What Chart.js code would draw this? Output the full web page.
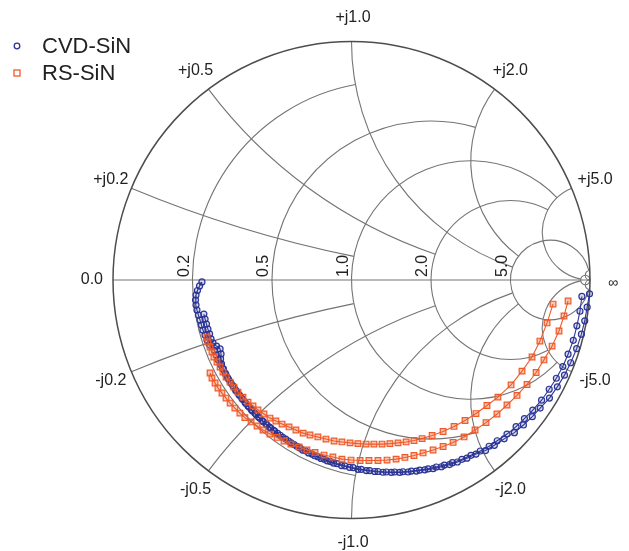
<!DOCTYPE html>
<html>
<head>
<meta charset="utf-8">
<script src="https://cdn.jsdelivr.net/npm/chart.js@4.4.1/dist/chart.umd.min.js"></script>
<style>
  html, body { margin: 0; padding: 0; background: #fff; }
  #wrap { width: 629px; height: 551px; position: relative; }
</style>
</head>
<body>
<div id="wrap"><canvas id="smith"></canvas></div>
<script>
// CVD-SiN, two sweeps
var cvdRe1 = [-0.627,-0.637,-0.646,-0.652,-0.654,-0.652,-0.648,-0.642,-0.635,-0.629,-0.623,-0.614,-0.606,-0.595,
  -0.575,-0.567,-0.559,-0.550,-0.540,-0.530,-0.520,-0.509,-0.497,-0.486,-0.473,-0.460,-0.447,-0.434,-0.420,-0.405,-0.390,-0.375,-0.359,-0.344,-0.327,-0.310,
  -0.288,-0.264,-0.241,-0.216,-0.192,-0.166,-0.141,-0.115,-0.088,-0.061,
  -0.028,0.007,0.041,0.076,0.111,0.146,0.181,0.216,0.251,0.286,0.321,0.355,0.389,0.423,
  0.463,0.501,0.540,0.577,0.611,0.652,0.690,0.725,0.760,0.797,0.829,0.859,0.886,0.908,0.930,0.945,0.958,0.966];
var cvdIm1 = [-0.008,-0.025,-0.044,-0.063,-0.084,-0.105,-0.126,-0.147,-0.168,-0.189,-0.210,-0.231,-0.252,-0.273,
  -0.295,-0.315,-0.334,-0.353,-0.372,-0.390,-0.409,-0.427,-0.444,-0.462,-0.479,-0.496,-0.512,-0.528,-0.544,-0.559,-0.574,-0.589,-0.603,-0.617,-0.630,-0.643,
  -0.660,-0.675,-0.690,-0.704,-0.717,-0.730,-0.741,-0.752,-0.761,-0.770,
  -0.779,-0.787,-0.794,-0.799,-0.803,-0.805,-0.805,-0.804,-0.801,-0.797,-0.792,-0.784,-0.776,-0.766,
  -0.752,-0.735,-0.717,-0.697,-0.674,-0.646,-0.615,-0.581,-0.546,-0.504,-0.458,-0.412,-0.363,-0.311,-0.253,-0.192,-0.131,-0.069];
var cvdRe2 = [-0.619,-0.614,-0.608,-0.602,-0.595,-0.589,-0.581,-0.566,-0.551,-0.547,-0.549,-0.545,-0.537,
  -0.527,-0.516,-0.505,-0.493,-0.481,-0.469,-0.456,-0.443,-0.429,-0.415,-0.400,-0.385,-0.370,-0.354,-0.338,-0.322,-0.299,-0.276,-0.253,-0.229,
  -0.205,-0.180,-0.154,-0.128,-0.102,-0.075,-0.042,-0.008,0.027,0.062,0.097,0.132,0.167,0.202,0.237,0.272,0.307,
  0.342,0.377,0.411,0.444,0.484,0.522,0.562,0.599,0.640,0.683,0.721,0.758,0.791,
  0.830,0.863,0.893,0.919,0.944,0.964,0.978,0.988,0.998];
var cvdIm2 = [-0.143,-0.164,-0.185,-0.206,-0.226,-0.247,-0.264,-0.277,-0.289,-0.310,-0.331,-0.352,-0.373,
  -0.396,-0.415,-0.433,-0.450,-0.468,-0.484,-0.501,-0.518,-0.533,-0.549,-0.564,-0.579,-0.594,-0.608,-0.621,-0.634,-0.651,-0.667,-0.683,-0.697,
  -0.713,-0.725,-0.737,-0.748,-0.758,-0.768,-0.778,-0.786,-0.794,-0.799,-0.803,-0.806,-0.807,-0.807,-0.805,-0.801,-0.796,
  -0.791,-0.783,-0.774,-0.763,-0.747,-0.730,-0.715,-0.693,-0.666,-0.640,-0.608,-0.573,-0.537,
  -0.495,-0.448,-0.399,-0.347,-0.288,-0.227,-0.171,-0.114,-0.058];
// RS-SiN, two sweeps
var rsRe1 = [-0.606,-0.602,-0.593,-0.585,-0.577,-0.564,-0.551,-0.539,-0.526,-0.509,
  -0.493,-0.476,-0.455,-0.434,-0.413,-0.392,-0.367,-0.342,-0.317,-0.291,
  -0.262,-0.233,-0.203,-0.174,-0.141,-0.107,-0.073,-0.040,-0.006,0.027,
  0.061,0.094,0.128,0.161,0.195,0.229,0.262,0.296,0.338,0.384,
  0.430,0.476,0.522,0.568,0.614,0.669,0.715,0.757,0.790,0.820,0.845];
var rsIm1 = [-0.239,-0.260,-0.281,-0.302,-0.323,-0.344,-0.365,-0.386,-0.407,-0.428,
  -0.449,-0.470,-0.491,-0.512,-0.528,-0.545,-0.562,-0.579,-0.591,-0.604,
  -0.616,-0.629,-0.642,-0.650,-0.658,-0.667,-0.675,-0.679,-0.683,-0.686,
  -0.688,-0.688,-0.688,-0.686,-0.683,-0.679,-0.673,-0.665,-0.652,-0.635,
  -0.614,-0.589,-0.560,-0.526,-0.491,-0.440,-0.382,-0.323,-0.256,-0.180,-0.101];
var rsRe2 = [-0.593,-0.585,-0.572,-0.560,-0.543,-0.526,-0.509,-0.489,-0.468,-0.447,
  -0.421,-0.396,-0.371,-0.342,-0.312,-0.283,-0.254,-0.220,-0.187,-0.153,
  -0.115,-0.078,-0.040,-0.002,0.036,0.073,0.111,0.149,0.187,0.224,
  0.262,0.300,0.342,0.384,0.426,0.472,0.518,0.564,0.610,0.652,
  0.694,0.736,0.774,0.807,0.841,0.870,0.891,0.908];
var rsIm2 = [-0.390,-0.411,-0.432,-0.453,-0.474,-0.495,-0.516,-0.537,-0.558,-0.577,
  -0.595,-0.612,-0.629,-0.646,-0.660,-0.675,-0.688,-0.700,-0.713,-0.723,
  -0.734,-0.742,-0.751,-0.755,-0.757,-0.757,-0.757,-0.755,-0.751,-0.744,
  -0.736,-0.725,-0.713,-0.698,-0.681,-0.658,-0.629,-0.598,-0.562,-0.524,
  -0.484,-0.438,-0.388,-0.335,-0.277,-0.214,-0.151,-0.088];

// Smith grid: normalized resistance circles / reactance arcs and where they stop
var rTicks = [0.2, 0.5, 1, 2, 5, 50];
var rStopAtX = [1, 2, 5, 5, 50, Infinity];
var xTicks = [0.2, 0.5, 1, 2, 5, 50];
var xStopAtR = [1, 2, 5, 5, 50, Infinity];
var rLabels = ["0.2", "0.5", "1.0", "2.0", "5.0"];
var xLabels = ["0.2", "0.5", "1.0", "2.0", "5.0"];

var blue = '#2c3596';
var orange = '#f05a28';

function toPoints(re, im) {
  return re.map(function (v, i) { return { x: v, y: im[i] }; });
}

// z = r + jx  ->  gamma
function gamma(r, x) {
  if (r === Infinity) return [1, 0];
  var d = (r + 1) * (r + 1) + x * x;
  return [(r * r + x * x - 1) / d, 2 * x / d];
}

var smithGrid = {
  id: 'smithGrid',
  beforeDatasetsDraw: function (chart) {
    var ctx = chart.ctx, sx = chart.scales.x, sy = chart.scales.y;
    var px = function (v) { return sx.getPixelForValue(v); };
    var py = function (v) { return sy.getPixelForValue(v); };
    var unit = px(1) - px(0);
    ctx.save();
    ctx.strokeStyle = '#747474';
    ctx.lineWidth = 1.1;

    rTicks.forEach(function (r, i) {
      var c = r / (1 + r), rad = 1 / (1 + r);
      ctx.beginPath();
      if (rStopAtX[i] === Infinity) {
        ctx.arc(px(c), py(0), rad * unit, 0, 2 * Math.PI);
      } else {
        var g = gamma(r, rStopAtX[i]);
        var t = Math.atan2(g[1], g[0] - c);
        ctx.arc(px(c), py(0), rad * unit, -t, t, true);
      }
      ctx.stroke();
    });

    xTicks.forEach(function (x, i) {
      [x, -x].forEach(function (xv) {
        var cy = 1 / xv, rad = Math.abs(1 / xv);
        var a = gamma(0, xv), b = gamma(xStopAtR[i], xv);
        var ta = Math.atan2(a[1] - cy, a[0] - 1);
        var tb = Math.atan2(b[1] - cy, b[0] - 1);
        ctx.beginPath();
        ctx.arc(px(1), py(cy), rad * unit, -ta, -tb, xv > 0);
        ctx.stroke();
      });
    });

    // real axis
    ctx.beginPath();
    ctx.moveTo(px(-1), py(0));
    ctx.lineTo(px(1), py(0));
    ctx.stroke();

    // outer circle
    ctx.strokeStyle = '#4d4d4d';
    ctx.lineWidth = 1.5;
    ctx.beginPath();
    ctx.arc(px(0), py(0), unit, 0, 2 * Math.PI);
    ctx.stroke();
    ctx.restore();
  },
  afterDraw: function (chart) {
    var ctx = chart.ctx, sx = chart.scales.x, sy = chart.scales.y;
    var px = function (v) { return sx.getPixelForValue(v); };
    var py = function (v) { return sy.getPixelForValue(v); };
    ctx.save();
    ctx.fillStyle = '#222';
    ctx.font = '16px "Liberation Sans", Arial, sans-serif';

    // reactance labels round the rim
    ctx.textAlign = 'center';
    ctx.textBaseline = 'middle';
    xTicks.slice(0, 5).forEach(function (x, i) {
      [1, -1].forEach(function (s) {
        var g = gamma(0, s * x);
        ctx.fillText((s > 0 ? '+j' : '-j') + xLabels[i], px(1.1 * g[0]) + 1.5, py(1.1 * g[1]));
      });
    });

    // resistance labels along the real axis
    rTicks.slice(0, 5).forEach(function (r, i) {
      var g = (r - 1) / (r + 1);
      ctx.save();
      ctx.translate(px(g) - 8, py(0) - 3);
      ctx.rotate(-Math.PI / 2);
      ctx.textAlign = 'left';
      ctx.textBaseline = 'middle';
      ctx.fillText(rLabels[i], 0, 0);
      ctx.restore();
    });
    ctx.textAlign = 'right';
    ctx.fillText('0.0', px(-1) - 10, py(0));
    ctx.textAlign = 'center';
    ctx.font = '14px "Liberation Sans", Arial, sans-serif';
    ctx.fillText('\u221e', px(1) + 23, py(0) + 3);

    // legend
    ctx.font = '22px "Liberation Sans", Arial, sans-serif';
    ctx.textAlign = 'left';
    ctx.lineWidth = 1.3;
    ctx.strokeStyle = blue;
    ctx.beginPath();
    ctx.arc(17, 46, 2.8, 0, 2 * Math.PI);
    ctx.stroke();
    ctx.fillText('CVD-SiN', 42, 47);
    ctx.strokeStyle = orange;
    ctx.strokeRect(14, 70, 6, 6);
    ctx.fillText('RS-SiN', 42, 74);
    ctx.restore();
  }
};

function series(re, im, color, fill, style, radius) {
  return {
    data: toPoints(re, im),
    showLine: true,
    borderColor: color,
    borderWidth: 1.1,
    pointStyle: style,
    pointRadius: radius,
    pointBorderWidth: 1.2,
    pointBorderColor: color,
    pointBackgroundColor: fill,
    clip: false
  };
}

var ctx = document.getElementById('smith');
var smith = new Chart(ctx, {
  type: 'scatter',
  data: {
    datasets: [
      series(rsRe1, rsIm1, orange, 'rgba(240,90,40,0.35)', 'rect', 4),
      series(rsRe2, rsIm2, orange, 'rgba(240,90,40,0.35)', 'rect', 4),
      series(cvdRe1, cvdIm1, blue, 'rgba(44,53,150,0.18)', 'circle', 3),
      series(cvdRe2, cvdIm2, blue, 'rgba(44,53,150,0.18)', 'circle', 3)
    ]
  },
  options: {
    responsive: true,
    maintainAspectRatio: false,
    animation: false,
    layout: { padding: { left: 113, right: 39, top: 41.5, bottom: 32.5 } },
    scales: {
      x: { type: 'linear', min: -1, max: 1, display: false },
      y: { type: 'linear', min: -1, max: 1, display: false }
    },
    plugins: { legend: { display: false }, tooltip: { enabled: false } }
  },
  plugins: [smithGrid]
});
</script>
</body>
</html>
